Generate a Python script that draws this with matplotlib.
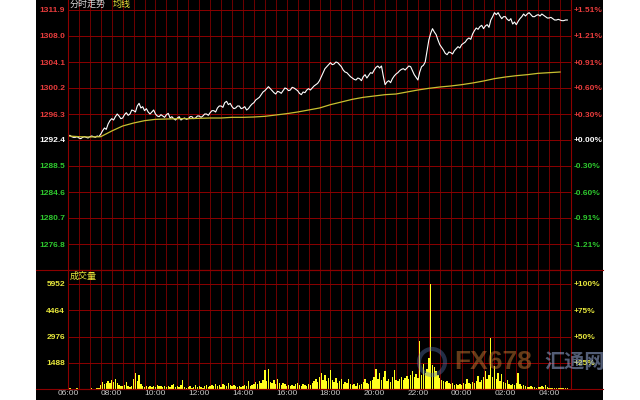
import numpy as np
import matplotlib
matplotlib.use('Agg')
import matplotlib.pyplot as plt
from matplotlib.patches import Rectangle, Ellipse
from matplotlib.lines import Line2D

plt.rcParams.update({
    'font.family': ['Liberation Sans', 'Noto Sans CJK SC', 'DejaVu Sans'],
    'font.size': 6,
    'figure.dpi': 100,
})

# ---- data ----
BASE_PRICE = 1292.4
PRICE_STEP_MIN = 5      # minutes between price samples, 06:00 start
AVG_STEP_MIN = 30
VOL_STEP_MIN = 5

price = [
    1293.0, 1293.1, 1292.9, 1292.8, 1292.8, 1292.9, 1292.7, 1292.6, 1292.8, 1292.9,
    1292.8, 1292.7, 1292.9, 1293.0, 1292.9, 1292.8, 1293.0, 1292.9, 1293.3, 1293.8,
    1294.2, 1294.0, 1294.8, 1295.3, 1295.6, 1295.4, 1295.9, 1296.3, 1296.0, 1295.6,
    1295.7, 1296.2, 1296.5, 1296.1, 1296.3, 1296.9, 1296.8, 1296.6, 1297.5, 1297.9,
    1297.2, 1297.4, 1296.8, 1297.1, 1296.6, 1296.3, 1296.6, 1296.9, 1296.3, 1296.0,
    1295.9, 1296.2, 1296.0, 1295.8, 1296.2, 1296.4, 1295.7, 1295.9, 1295.6, 1295.4,
    1295.7, 1295.9, 1295.4, 1295.6, 1295.7, 1295.5, 1295.6, 1295.9, 1295.9, 1295.6,
    1295.7, 1296.0, 1296.0, 1295.8, 1296.0, 1296.3, 1296.3, 1296.1, 1296.5, 1296.8,
    1296.8, 1296.6, 1297.2, 1297.5, 1297.5, 1297.3, 1298.0, 1298.2, 1297.7, 1297.9,
    1297.4, 1297.1, 1297.2, 1297.5, 1297.5, 1297.1, 1297.2, 1297.4, 1296.9, 1297.1,
    1297.5, 1297.8, 1298.0, 1298.4, 1298.6, 1298.8, 1299.2, 1299.6, 1299.8, 1300.1,
    1300.4, 1300.1, 1299.8, 1299.5, 1299.3, 1299.7, 1299.6, 1299.4, 1299.8, 1300.2,
    1300.1, 1299.8, 1299.9, 1300.3, 1300.2, 1300.0, 1299.8, 1299.4, 1299.2, 1299.6,
    1299.5, 1299.9, 1300.1, 1299.9, 1300.2, 1300.5, 1300.7, 1300.9, 1301.3, 1301.9,
    1302.5, 1303.1, 1303.4, 1303.7, 1304.0, 1303.7, 1303.8, 1304.1, 1304.0, 1303.7,
    1303.4, 1302.9, 1302.6, 1302.5, 1302.2, 1301.9, 1301.7, 1301.5, 1301.4, 1301.7,
    1301.6, 1301.3, 1301.9, 1302.2, 1301.7, 1302.1, 1302.5, 1302.4, 1302.9, 1303.3,
    1303.5, 1303.2, 1303.5, 1302.0, 1300.7, 1301.1, 1301.3, 1301.0, 1301.6, 1302.0,
    1302.3, 1302.5, 1302.8, 1303.0, 1303.1, 1302.9, 1303.2, 1303.5, 1303.4, 1302.8,
    1302.2, 1301.8, 1301.4, 1302.6, 1303.4, 1303.6, 1304.1, 1305.8, 1307.4, 1308.4,
    1309.1, 1308.6, 1308.2, 1307.4, 1306.7, 1306.3, 1305.9, 1305.4, 1305.2, 1305.6,
    1305.5, 1305.3, 1305.8, 1306.1, 1306.4, 1306.2, 1306.7, 1306.9, 1307.1, 1307.5,
    1307.7, 1307.5, 1308.3, 1308.8, 1309.2, 1309.0, 1309.4, 1309.6, 1309.1, 1309.5,
    1309.7, 1309.3, 1310.4, 1310.9, 1311.5, 1311.2, 1311.5, 1311.0, 1310.6, 1310.9,
    1310.9, 1310.5, 1310.3, 1310.6, 1309.8, 1310.1, 1309.7, 1310.2, 1310.6, 1310.9,
    1311.3, 1311.0, 1311.3, 1311.5, 1311.2, 1310.9, 1310.9, 1311.1, 1311.2, 1311.0,
    1311.3, 1311.1, 1310.9, 1310.7, 1310.7, 1310.8, 1310.6, 1310.4, 1310.4, 1310.5,
    1310.4, 1310.3, 1310.3, 1310.4, 1310.4,
]

avg_price = [
    1293.0, 1292.9, 1292.85, 1292.9, 1293.75, 1294.5, 1294.95, 1295.3, 1295.5, 1295.55,
    1295.6, 1295.6, 1295.65, 1295.7, 1295.7, 1295.8, 1295.8, 1295.85, 1295.95, 1296.15,
    1296.35, 1296.6, 1296.9, 1297.2, 1297.7, 1298.1, 1298.5, 1298.8, 1299.0, 1299.2,
    1299.3, 1299.6, 1299.9, 1300.15, 1300.35, 1300.5, 1300.7, 1300.95, 1301.25, 1301.6,
    1301.85, 1302.05, 1302.2, 1302.4, 1302.5, 1302.6,
]

volume = [
    110, 30, 0, 0, 0, 30, 0, 0, 0, 0, 0, 0, 0, 30, 0, 0, 55, 30,
    230, 400, 285, 340, 455, 340, 510, 400, 570, 340, 230, 170,
    170, 230, 400, 170, 115, 170, 570, 910, 455, 800, 285, 170,
    115, 170, 115, 170, 115, 170, 115, 230, 170, 170, 115, 170,
    115, 170, 115, 230, 285, 115, 170, 115, 230, 510, 115, 55,
    115, 170, 55, 115, 230, 115, 170, 115, 55, 170, 230, 115,
    170, 230, 170, 285, 170, 230, 115, 285, 230, 170, 340, 230,
    170, 230, 170, 115, 170, 115, 170, 230, 170, 455, 170, 230,
    285, 400, 285, 455, 340, 510, 1080, 455, 1140, 400, 340, 510,
    285, 570, 340, 230, 340, 285, 170, 230, 170, 230, 170, 285,
    340, 230, 170, 285, 230, 170, 285, 230, 340, 455, 570, 400,
    680, 910, 510, 800, 455, 625, 1080, 510, 400, 625, 340, 455,
    570, 285, 400, 340, 570, 285, 230, 285, 170, 340, 230, 285,
    400, 570, 340, 285, 455, 510, 680, 1140, 570, 910, 510, 680,
    1020, 455, 570, 400, 680, 1080, 510, 455, 570, 680, 510, 625,
    740, 570, 800, 1020, 680, 850, 625, 2730, 800, 1420, 910, 1140,
    1760, 5952, 1360, 1250, 1020, 800, 625, 510, 455, 400, 455, 340,
    285, 340, 230, 285, 230, 285, 230, 340, 285, 570, 340, 285,
    400, 340, 455, 740, 400, 510, 680, 1020, 570, 800, 2900, 680,
    1310, 570, 910, 455, 850, 400, 340, 510, 285, 230, 285, 230,
    340, 910, 285, 170, 230, 170, 115, 115, 170, 115, 115, 55,
    115, 115, 170, 115, 230, 115, 55, 55, 30, 30, 55, 30,
    30, 55, 30, 30, 30, 0,
]

price_levels = [1311.9, 1308.0, 1304.1, 1300.2, 1296.3, 1292.4,
                1288.5, 1284.6, 1280.7, 1276.8, 1272.9]
pct_labels = ['+1.51%', '+1.21%', '+0.91%', '+0.60%', '+0.30%', '+0.00%',
              '-0.30%', '-0.60%', '-0.91%', '-1.21%', '']
vol_levels = [1488, 2976, 4464, 5952]
vol_pct_labels = ['+25%', '+50%', '+75%', '+100%']
time_labels = ['06:00', '08:00', '10:00', '12:00', '14:00', '16:00',
               '18:00', '20:00', '22:00', '00:00', '02:00', '04:00']

# ---- style ----
GRID_H = '#8c0000'
GRID_V = '#700000'
RED = '#e83c3c'
GREEN = '#2ec82e'
YELLOW = '#e8e83c'
AVG_COL = '#c8c030'
W, H = 640, 400
SESSION_MIN = 1380


def fx(px):
    return px / W


def fy(py):
    return 1 - py / H


def level_colour(v):
    if abs(v - BASE_PRICE) < 0.01:
        return 'white'
    return RED if v > BASE_PRICE else GREEN


fig = plt.figure(figsize=(W / 100, H / 100), facecolor='white')
fig.patches.append(Rectangle((fx(36), 0), fx(567), 1, transform=fig.transFigure,
                             facecolor='black', edgecolor='none', zorder=-5))

ax_p = fig.add_axes([fx(68), fy(270), fx(503), fy(0) - fy(270)], zorder=1)
ax_v = fig.add_axes([fx(68), fy(389), fx(503), fy(270) - fy(389)], zorder=1)

for ax in (ax_p, ax_v):
    ax.set_facecolor('black')
    ax.set_xlim(0, SESSION_MIN)
    ax.set_xticks(np.arange(0, SESSION_MIN + 1, 120))
    ax.set_xticks(np.arange(0, SESSION_MIN + 1, 30), minor=True)
    ax.grid(True, which='both', axis='x', color=GRID_V, lw=0.7)
    ax.grid(True, which='major', axis='y', color=GRID_H, lw=0.7)
    ax.tick_params(which='both', length=0)
    for s in ax.spines.values():
        s.set_color(GRID_H)
        s.set_linewidth(0.8)
    ax.set_axisbelow(True)
ax_p.spines['top'].set_visible(False)

# price panel
t_price = np.arange(len(price)) * PRICE_STEP_MIN
t_avg = np.arange(len(avg_price)) * AVG_STEP_MIN
ax_p.plot(t_price, price, color='white', lw=0.8)
ax_p.plot(t_avg, avg_price, color=AVG_COL, lw=0.9)
ax_p.set_ylim(1272.9, 1313.4)
ax_p.set_yticks(price_levels)
ax_p.set_yticklabels([f'{v:.1f}' if v > 1273 else '' for v in price_levels],
                     fontweight='bold', fontsize=6)
ax_p.tick_params(axis='y', pad=2)
ax_p.set_xticklabels([])
for lab, v in zip(ax_p.get_yticklabels(), price_levels):
    lab.set_color(level_colour(v))

ax_pr = ax_p.twinx()
ax_pr.set_ylim(ax_p.get_ylim())
ax_pr.set_yticks(price_levels)
ax_pr.set_yticklabels(pct_labels, fontweight='bold', fontsize=6)
ax_pr.tick_params(length=0, pad=2)
for s in ax_pr.spines.values():
    s.set_visible(False)
for lab, v in zip(ax_pr.get_yticklabels(), price_levels):
    lab.set_color(level_colour(v))

ax_p.text(0.004, 1.0, '分时走势', transform=ax_p.transAxes, color='#d8d8d8',
          fontsize=6.5, va='top', family=['Noto Sans CJK SC', 'DejaVu Sans'])
ax_p.text(0.088, 1.0, '均线', transform=ax_p.transAxes, color=YELLOW,
          fontsize=6.5, va='top', family=['Noto Sans CJK SC', 'DejaVu Sans'])

# volume panel
t_vol = np.arange(len(volume)) * VOL_STEP_MIN
ax_v.bar(t_vol, volume, width=VOL_STEP_MIN * 0.75, color='#ffff1e', edgecolor='none')
ax_v.set_ylim(0, max(vol_levels) * 119 / 105)
ax_v.set_yticks(vol_levels)
ax_v.set_yticklabels([str(v) for v in vol_levels], color=YELLOW,
                     fontweight='bold', fontsize=6)
ax_v.tick_params(axis='y', pad=2)
ax_v.set_xticklabels(time_labels, color='#c8c8c8', fontsize=6)
ax_v.tick_params(axis='x', pad=1)

ax_vr = ax_v.twinx()
ax_vr.set_ylim(ax_v.get_ylim())
ax_vr.set_yticks(vol_levels)
ax_vr.set_yticklabels(vol_pct_labels, color=YELLOW, fontweight='bold', fontsize=6)
ax_vr.tick_params(length=0, pad=2)
for s in ax_vr.spines.values():
    s.set_visible(False)

ax_v.text(0.004, 0.985, '成交量', transform=ax_v.transAxes, color=YELLOW,
          fontsize=6.5, va='top', family=['Noto Sans CJK SC', 'DejaVu Sans'])

# full-width divider lines
for py in (270, 389):
    fig.add_artist(Line2D([fx(36), fx(603)], [fy(py), fy(py)], color=GRID_H,
                          lw=0.8, transform=fig.transFigure, zorder=2))

# watermark
fig.add_artist(Ellipse((fx(432), fy(362)), 26 / W, 26 / H, transform=fig.transFigure,
                       facecolor='none', edgecolor='#5a78b4', lw=3, alpha=0.4, zorder=3))
fig.text(fx(454), fy(362), 'FX678', color='#c87832', alpha=0.5, fontsize=19,
         fontweight='bold', va='center', ha='left', zorder=3)
fig.text(fx(544), fy(362), '汇通网', color='#96aad8', alpha=0.55, fontsize=14.5,
         fontweight='bold', va='center', ha='left', zorder=3,
         family=['Noto Sans CJK SC', 'DejaVu Sans'])

fig.savefig('out.png', dpi=100, facecolor='white')
